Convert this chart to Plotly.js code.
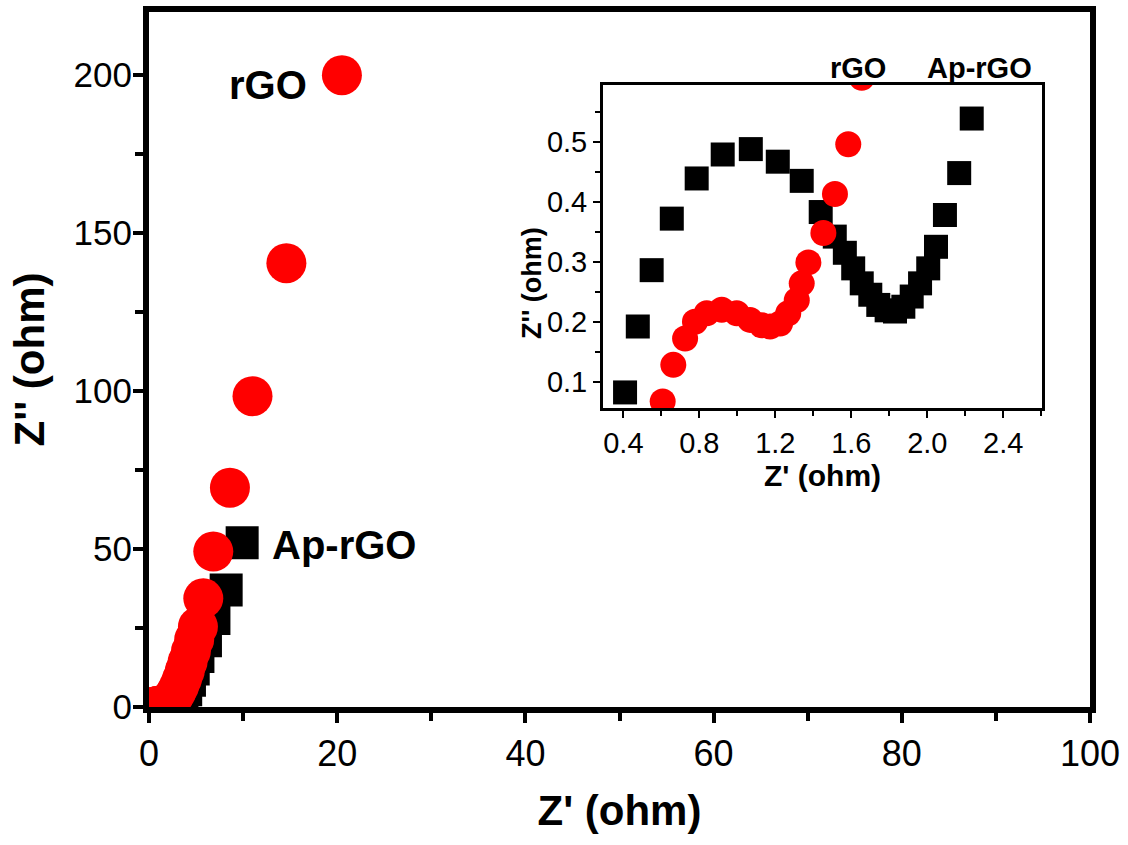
<!DOCTYPE html>
<html>
<head>
<meta charset="utf-8">
<script src="https://cdn.plot.ly/plotly-3.0.1.min.js"></script>
<style>html,body{margin:0;padding:0;background:#fff;}#chart{width:1128px;height:845px;}</style>
</head>
<body>
<div id="chart"></div>
<script>
// Ap-rGO (black squares): Z' and Z'' in ohm
const apZr = [0.409,0.476,0.549,0.655,0.786,0.923,1.071,1.213,1.339,1.439,1.513,1.566,1.61,1.655,1.70,1.742,1.786,1.83,1.874,1.918,1.962,2.005,2.046,2.093,2.168,2.234,
              2.45,2.7,3.1,3.5,3.9,4.3,4.7,5.2,6.0,6.9,8.2,9.9];
const apZi = [0.082,0.192,0.286,0.372,0.439,0.479,0.488,0.467,0.435,0.383,0.342,0.315,0.289,0.264,0.245,0.228,0.219,0.217,0.225,0.242,0.264,0.289,0.325,0.378,0.448,0.539,
              0.75,1.1,1.8,3.2,5.5,8.5,12,16,21,28,37,52];
// rGO (red circles)
const rgoZr = [0.607,0.663,0.725,0.777,0.839,0.918,0.997,1.067,1.128,1.172,1.225,1.268,1.313,1.339,1.374,1.453,1.514,1.584,1.655,
               1.8,2.0,2.3,2.6,2.9,3.2,3.5,3.8,4.1,4.45,4.8,5.2,5.77,6.83,8.6,11.0,14.6,20.5];
const rgoZi = [0.067,0.128,0.172,0.2,0.214,0.22,0.214,0.203,0.194,0.192,0.197,0.214,0.236,0.264,0.299,0.348,0.413,0.496,0.607,
               0.9,1.4,2.2,3.3,4.8,6.6,8.8,11.4,14.3,17.6,21.3,25.4,34.4,49.2,69.4,98.4,140.5,200];

const seriesNames = ['Ap-rGO','rGO'];
const mainXTitle = "Z' (ohm)";
const mainYTitle = "Z'' (ohm)";

const traces = [
  {x:apZr, y:apZi, xaxis:'x', yaxis:'y', mode:'markers', type:'scatter', name:seriesNames[0],
   marker:{symbol:'square', size:33, color:'#000000'}},
  {x:rgoZr, y:rgoZi, xaxis:'x', yaxis:'y', mode:'markers', type:'scatter', name:seriesNames[1],
   marker:{symbol:'circle', size:40, color:'#ff0000'}},
  {x:apZr, y:apZi, xaxis:'x2', yaxis:'y2', mode:'markers', type:'scatter', name:seriesNames[0],
   marker:{symbol:'square', size:24, color:'#000000'}},
  {x:rgoZr, y:rgoZi, xaxis:'x2', yaxis:'y2', mode:'markers', type:'scatter', name:seriesNames[1],
   marker:{symbol:'circle', size:26, color:'#ff0000'}}
];

const F = 'Liberation Sans, Arial, Helvetica, sans-serif';
const mainAx = {
  showgrid:false, zeroline:false, showline:true, linewidth:6, linecolor:'#000', mirror:true,
  ticks:'outside', ticklen:10, tickwidth:4, tickcolor:'#000',
  tickfont:{family:F, size:36, color:'#000'}
};
const insetAx = {
  showgrid:false, zeroline:false, showline:true, linewidth:3, linecolor:'#000', mirror:true,
  ticks:'outside', ticklen:7, tickwidth:2, tickcolor:'#000',
  tickfont:{family:F, size:29, color:'#000'}, tickformat:'.1f'
};

const layout = {
  width:1128, height:845,
  margin:{l:149, r:38, t:12, b:138},
  paper_bgcolor:'#fff', plot_bgcolor:'#fff',
  showlegend:false,
  font:{family:F, color:'#000'},
  xaxis:Object.assign({}, mainAx, {
    domain:[0,1], anchor:'y', range:[0,100], tick0:0, dtick:20,
    minor:{dtick:10, ticks:'outside', ticklen:8, tickwidth:4, tickcolor:'#000', showgrid:false},
    title:{text:'<b>'+mainXTitle+'</b>', font:{family:F, size:42, color:'#000'}, standoff:24}
  }),
  yaxis:Object.assign({}, mainAx, {
    domain:[0,1], anchor:'x', range:[0,220], tick0:0, dtick:50,
    tickfont:{family:F, size:35, color:'#000'}, ticklabelstandoff:-6,
    minor:{dtick:25, ticks:'outside', ticklen:8, tickwidth:4, tickcolor:'#000', showgrid:false},
    title:{text:'<b>'+mainYTitle+'</b>', font:{family:F, size:42, color:'#000'}, standoff:18}
  }),
  xaxis2:Object.assign({}, insetAx, {
    domain:[0.4825, 0.949], anchor:'y2', range:[0.293, 2.604], tick0:0, dtick:0.4,
    minor:{dtick:0.2, ticks:'outside', ticklen:5, tickwidth:2, tickcolor:'#000', showgrid:false},
    title:{text:'<b>'+mainXTitle+'</b>', font:{family:F, size:30, color:'#000'}, standoff:6}
  }),
  yaxis2:Object.assign({}, insetAx, {
    domain:[0.4302, 0.895], anchor:'x2', range:[0.056, 0.595], tick0:0, dtick:0.1,
    minor:{dtick:0.05, ticks:'outside', ticklen:5, tickwidth:2, tickcolor:'#000', showgrid:false}
  }),
  annotations:[
    {xref:'x', yref:'y', x:12.65, y:196.8, xanchor:'center', yanchor:'middle', text:'<b>rGO</b>', showarrow:false, font:{family:F, size:40, color:'#000'}},
    {xref:'x', yref:'y', x:20.7, y:51.3, xanchor:'center', yanchor:'middle', text:'<b>Ap-rGO</b>', showarrow:false, font:{family:F, size:40, color:'#000'}},
    {xref:'x2', yref:'paper', x:1.637, y:0.919, xanchor:'center', yanchor:'middle', text:'<b>rGO</b>', showarrow:false, font:{family:F, size:29, color:'#000'}},
    {xref:'x2', yref:'paper', x:2.277, y:0.919, xanchor:'center', yanchor:'middle', text:'<b>Ap-rGO</b>', showarrow:false, font:{family:F, size:29, color:'#000'}},
    {xref:'paper', yref:'paper', x:0.407, y:0.61, xanchor:'center', yanchor:'middle', textangle:-90, text:'<b>'+mainYTitle+'</b>', showarrow:false, font:{family:F, size:27, color:'#000'}}
  ]
};

Plotly.newPlot('chart', traces, layout, {displayModeBar:false, staticPlot:true});
</script>
</body>
</html>
